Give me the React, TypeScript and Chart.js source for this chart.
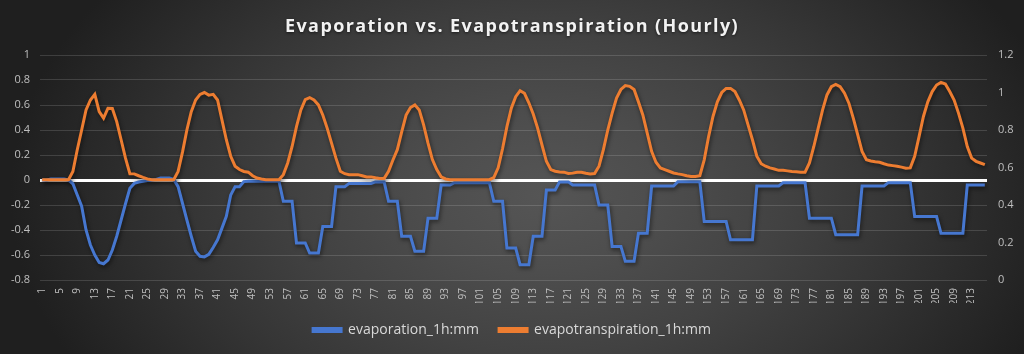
import React, { useEffect, useRef } from "react";
import { Chart, registerables } from "chart.js";

Chart.register(...registerables);

const TITLE = "Evaporation vs. Evapotranspiration (Hourly)";

const hours: string[] = Array.from({ length: 216 }, (_, i) => String(i + 1));

const evaporation: number[] = [
  0, 0, 0.008, 0.008, 0.008, 0.008, 0, -0.03, -0.12, -0.21,
  -0.40, -0.52, -0.60, -0.66, -0.67, -0.64, -0.56, -0.45, -0.32, -0.19,
  -0.066, -0.027, -0.016, -0.01, -0.005, 0, 0.005, 0.016, 0.016, 0.016,
  0.005, -0.053, -0.186, -0.32, -0.45, -0.57, -0.61, -0.615, -0.595, -0.54,
  -0.478, -0.385, -0.29, -0.12, -0.053, -0.053, -0.013, -0.01, -0.01, -0.01,
  -0.01, -0.01, -0.01, -0.01, -0.01, -0.17, -0.17, -0.17, -0.504, -0.504,
  -0.504, -0.584, -0.584, -0.584, -0.372, -0.372, -0.372, -0.053, -0.053, -0.053,
  -0.027, -0.027, -0.027, -0.027, -0.027, -0.027, -0.015, -0.015, -0.015, -0.17,
  -0.17, -0.17, -0.45, -0.45, -0.45, -0.57, -0.57, -0.57, -0.305, -0.305,
  -0.305, -0.04, -0.04, -0.04, -0.021, -0.021, -0.021, -0.021, -0.021, -0.021,
  -0.021, -0.021, -0.021, -0.17, -0.17, -0.17, -0.544, -0.544, -0.544, -0.677,
  -0.677, -0.677, -0.45, -0.45, -0.45, -0.08, -0.08, -0.08, -0.015, -0.015,
  -0.015, -0.04, -0.04, -0.04, -0.04, -0.04, -0.04, -0.2, -0.2, -0.2,
  -0.531, -0.531, -0.531, -0.65, -0.65, -0.65, -0.425, -0.425, -0.425, -0.048,
  -0.048, -0.048, -0.048, -0.048, -0.048, -0.013, -0.013, -0.013, -0.013, -0.013,
  -0.013, -0.332, -0.332, -0.332, -0.332, -0.332, -0.332, -0.478, -0.478, -0.478,
  -0.478, -0.478, -0.478, -0.048, -0.048, -0.048, -0.048, -0.048, -0.048, -0.021,
  -0.021, -0.021, -0.021, -0.021, -0.021, -0.305, -0.305, -0.305, -0.305, -0.305,
  -0.305, -0.438, -0.438, -0.438, -0.438, -0.438, -0.438, -0.048, -0.048, -0.048,
  -0.048, -0.048, -0.048, -0.021, -0.021, -0.021, -0.021, -0.021, -0.021, -0.292,
  -0.292, -0.292, -0.292, -0.292, -0.292, -0.425, -0.425, -0.425, -0.425, -0.425,
  -0.425, -0.04, -0.04, -0.04, -0.04, -0.04,
];

const evapotranspiration: number[] = [
  0.535, 0.535, 0.535, 0.535, 0.535, 0.535, 0.535, 0.579, 0.695, 0.80,
  0.907, 0.96, 0.99, 0.898, 0.863, 0.916, 0.915, 0.845, 0.748, 0.65,
  0.567, 0.566, 0.556, 0.547, 0.539, 0.535, 0.535, 0.535, 0.535, 0.535,
  0.535, 0.579, 0.682, 0.80, 0.898, 0.96, 0.99, 1.0, 0.986, 0.99,
  0.96, 0.854, 0.748, 0.66, 0.607, 0.589, 0.579, 0.575, 0.556, 0.544,
  0.539, 0.535, 0.535, 0.535, 0.535, 0.562, 0.624, 0.712, 0.818, 0.907,
  0.962, 0.973, 0.96, 0.934, 0.88, 0.81, 0.73, 0.65, 0.58, 0.567,
  0.562, 0.562, 0.562, 0.556, 0.55, 0.55, 0.545, 0.542, 0.542, 0.58,
  0.64, 0.695, 0.79, 0.88, 0.92, 0.934, 0.907, 0.827, 0.73, 0.642,
  0.589, 0.55, 0.539, 0.535, 0.535, 0.535, 0.535, 0.535, 0.535, 0.535,
  0.535, 0.535, 0.535, 0.546, 0.598, 0.70, 0.818, 0.916, 0.978, 1.01,
  0.996, 0.945, 0.885, 0.81, 0.72, 0.633, 0.589, 0.58, 0.576, 0.575,
  0.568, 0.57, 0.575, 0.575, 0.569, 0.566, 0.568, 0.607, 0.695, 0.80,
  0.89, 0.97, 1.016, 1.037, 1.033, 1.016, 0.95, 0.88, 0.783, 0.686,
  0.628, 0.598, 0.589, 0.58, 0.571, 0.566, 0.562, 0.556, 0.552, 0.552,
  0.556, 0.641, 0.765, 0.872, 0.95, 1.0, 1.022, 1.022, 1.005, 0.96,
  0.907, 0.827, 0.748, 0.66, 0.62, 0.607, 0.598, 0.592, 0.585, 0.585,
  0.582, 0.579, 0.577, 0.575, 0.575, 0.624, 0.712, 0.81, 0.907, 0.987,
  1.031, 1.043, 1.031, 0.996, 0.943, 0.863, 0.775, 0.686, 0.642, 0.635,
  0.631, 0.628, 0.62, 0.613, 0.61, 0.607, 0.602, 0.596, 0.598, 0.66,
  0.765, 0.872, 0.95, 1.005, 1.04, 1.054, 1.045, 1.005, 0.96, 0.89,
  0.81, 0.712, 0.65, 0.633, 0.624, 0.615,
];

const BLUE = "#4677d0";
const ORANGE = "#ed7d31";
const TICK_COLOR = "#bfbfbf";
const GRID_COLOR = "rgba(255,255,255,0.14)";

const fmtTick = (v: any) => String(Math.round(Number(v) * 10) / 10);

const titlePlugin = {
  id: "customTitle",
  afterDraw(chart: any) {
    const c = chart.ctx;
    c.save();
    c.font = 'bold 18px "Open Sans"';
    (c as any).letterSpacing = "1.4px";
    c.fillStyle = "#f2f2f2";
    c.textAlign = "center";
    c.textBaseline = "alphabetic";
    c.shadowColor = "rgba(0,0,0,0.6)";
    c.shadowBlur = 3;
    c.shadowOffsetY = 1;
    c.fillText(TITLE, 512, 32);
    c.restore();
  },
};

const shadowPlugin = {
  id: "lineShadow",
  beforeDatasetDraw(chart: any) {
    const c = chart.ctx;
    c.save();
    c.shadowColor = "rgba(0,0,0,0.55)";
    c.shadowBlur = 4;
    c.shadowOffsetX = 1;
    c.shadowOffsetY = 2;
  },
  afterDatasetDraw(chart: any) {
    chart.ctx.restore();
  },
};

export default function App() {
  const ref = useRef<HTMLCanvasElement>(null);

  useEffect(() => {
    const chart = new Chart(ref.current!, {
      type: "line",
      data: {
        labels: hours,
        datasets: [
          {
            label: "evaporation_1h:mm",
            data: evaporation,
            borderColor: BLUE,
            backgroundColor: BLUE,
            borderWidth: 3,
            pointRadius: 0,
            tension: 0,
            yAxisID: "y",
            order: 1,
          },
          {
            label: "evapotranspiration_1h:mm",
            data: evapotranspiration,
            borderColor: ORANGE,
            backgroundColor: ORANGE,
            borderWidth: 3,
            pointRadius: 0,
            tension: 0,
            yAxisID: "y1",
            order: 0,
          },
        ],
      },
      options: {
        responsive: false,
        animation: false,
        layout: { padding: { top: 55, bottom: 7, left: 0, right: 0 } },
        plugins: {
          title: { display: false },
          tooltip: { enabled: false },
          legend: {
            position: "bottom",
            labels: {
              boxWidth: 28,
              boxHeight: 3,
              padding: 20,
              color: "#d9d9d9",
              font: { family: "Open Sans", size: 14 },
              sort: (a: any, b: any) => a.datasetIndex - b.datasetIndex,
            },
          },
        },
        scales: {
          x: {
            offset: true,
            grid: { display: false, drawTicks: false },
            border: { display: false },
            ticks: {
              autoSkip: false,
              maxRotation: 90,
              minRotation: 90,
              padding: 8,
              color: TICK_COLOR,
              font: { family: "Open Sans", size: 10 },
              callback: (_v: any, i: number) => (i % 4 === 0 ? hours[i] : ""),
            },
            afterFit: (s: any) => {
              const lh = s.chart.legend ? s.chart.legend.height : 44;
              s.height = 354 - 280 - 7 - lh;
            },
          },
          y: {
            position: "left",
            min: -0.8,
            max: 1,
            border: { display: false },
            grid: {
              drawTicks: false,
              color: (ctx: any) => (ctx.tick && ctx.tick.value === 0 ? "#ffffff" : GRID_COLOR),
              lineWidth: (ctx: any) => (ctx.tick && ctx.tick.value === 0 ? 3 : 1),
            },
            ticks: {
              stepSize: 0.2,
              padding: 10,
              color: TICK_COLOR,
              font: { family: "Open Sans", size: 11 },
              callback: fmtTick,
            },
            afterFit: (s: any) => {
              s.width = 40;
            },
          },
          y1: {
            position: "right",
            min: 0,
            max: 1.2,
            border: { display: false },
            grid: { drawOnChartArea: false, drawTicks: false },
            ticks: {
              stepSize: 0.2,
              padding: 11,
              color: TICK_COLOR,
              font: { family: "Open Sans", size: 11 },
              callback: fmtTick,
            },
            afterFit: (s: any) => {
              s.width = 37;
            },
          },
        },
      },
      plugins: [titlePlugin, shadowPlugin],
    } as any);
    return () => chart.destroy();
  }, []);

  return (
    <div
      style={{
        position: "absolute",
        left: 0,
        top: 0,
        width: 1024,
        height: 354,
        background:
          "radial-gradient(ellipse 52% 100% at 53% 55%, #555555 0%, #4d4d4d 22%, #424242 45%, #363636 65%, #292929 85%, #1f1f1f 100%)",
      }}
    >
      <canvas ref={ref} width={1024} height={354} style={{ display: "block" }} />
    </div>
  );
}
